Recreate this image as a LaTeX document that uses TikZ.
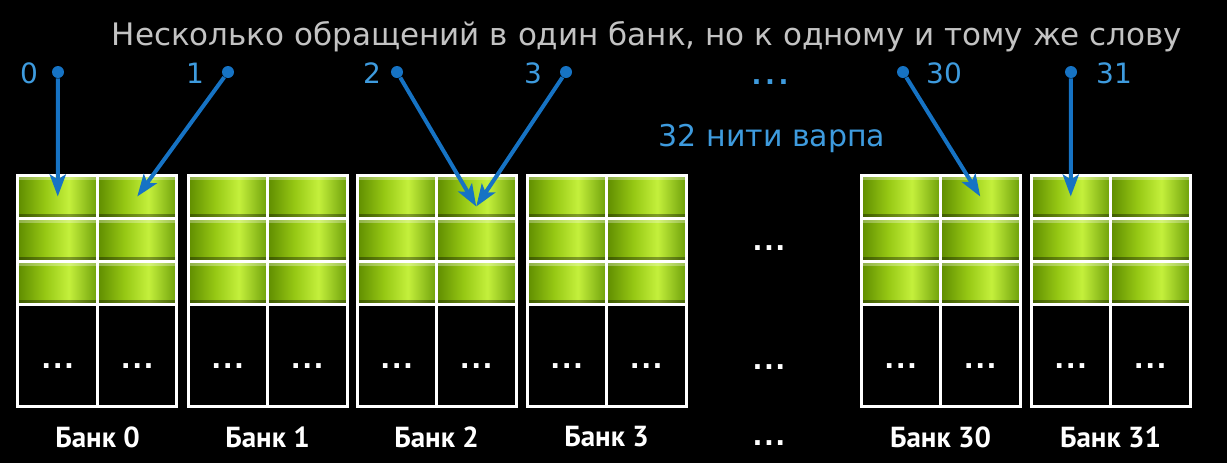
\documentclass[tikz,border=0pt]{standalone}
\usepackage{fontspec}
\setmainfont{DejaVu Sans}
\newfontfamily\bankfont{PT Sans}
\usepackage{tikz}
\usetikzlibrary{matrix,arrows.meta}

\definecolor{gdark}{RGB}{95,140,0}
\definecolor{gmid}{RGB}{150,200,20}
\definecolor{glight}{RGB}{196,240,60}
\definecolor{gedge}{RGB}{110,160,10}
\definecolor{threadblue}{RGB}{62,155,222}
\definecolor{arrowblue}{RGB}{22,115,196}
\definecolor{titlegray}{RGB}{195,195,195}
\pgfdeclarehorizontalshading{cellshade}{100bp}{color(0bp)=(gdark); color(25bp)=(gdark); color(42bp)=(gmid); color(57bp)=(glight); color(75bp)=(gedge); color(100bp)=(gedge)}

\tikzset{
  gcell/.style={draw=white, line width=1.5pt, inner sep=0pt, outer sep=0pt,
    minimum width=39.75pt, minimum height=21.5pt, shading=cellshade,
    path picture={
      \fill[white, opacity=.3] ([yshift=-1pt]path picture bounding box.north west) rectangle ([yshift=-2.5pt]path picture bounding box.north east);
      \fill[black, opacity=.35] ([yshift=2pt]path picture bounding box.south west) rectangle (path picture bounding box.south east);
    }},
  kcell/.style={draw=white, line width=1.5pt, inner sep=0pt, outer sep=0pt,
    minimum width=39.75pt, minimum height=51pt, fill=black},
  bank/.style={matrix of nodes, nodes in empty cells, ampersand replacement=\&,
    column sep=-1.5pt, row sep=-1.5pt, inner sep=0pt, outer sep=0pt, anchor=north,
    row 1/.style={nodes=gcell}, row 2/.style={nodes=gcell},
    row 3/.style={nodes=gcell}, row 4/.style={nodes=kcell}},
  banklabel/.style={text=white, font=\bankfont\bfseries\fontsize{14.5}{16}\selectfont},
  cdots/.style={text=white, inner sep=0pt, font=\bfseries\fontsize{13}{14}\selectfont\addfontfeature{LetterSpace=6}},
  tdot/.style={circle, fill=arrowblue, inner sep=0pt, minimum size=6pt},
  tnum/.style={text=threadblue, inner sep=0pt, font=\fontsize{14}{16}\selectfont},
  warp/.style={draw=arrowblue, line width=2pt, -{Stealth[length=11pt,width=8pt,inset=2.5pt]}}
}

\begin{document}
\begin{tikzpicture}[x=0.5pt, y=-0.5pt]
  \fill[black] (0,0) rectangle (1227,463);
  \useasboundingbox (0,0) rectangle (1227,463);

  \node[anchor=base, text=titlegray, font=\fontsize{15.5}{18}\selectfont] (title) at (647,45)
    {Несколько обращений в один банк, но к одному и тому же слову};

  % memory banks
  \foreach \b/\x in {0/97.5,1/267.5,2/436.5,3/606.5,30/940.5,31/1110.5}{
    \matrix (b\b) [bank] at (\x,173.5) {
      \& \\
      \& \\
      \& \\
      \& \\
    };
    \node[cdots] (d\b-1) at ([yshift=-5.5pt]b\b-4-1.center) {...};
    \node[cdots] (d\b-2) at ([yshift=-5.5pt]b\b-4-2.center) {...};
    \node[banklabel] (l\b) at (\x,437) {Банк \b};
  }
  \node[cdots] (m1) at (769,248) {...};
  \node[cdots] (m2) at (769,367) {...};
  \node[cdots] (m3) at (769,443) {...};

  % warp threads
  \node[tdot] (t0) at (58,72) {};
  \node[tdot] (t1) at (228,72) {};
  \node[tdot] (t2) at (397,72) {};
  \node[tdot] (t3) at (566,72) {};
  \node[tdot] (t30) at (903,72) {};
  \node[tdot] (t31) at (1071,72) {};
  \node[tnum] (n0) at (29,73) {0};
  \node[tnum] (n1) at (195,73) {1};
  \node[tnum] (n2) at (372,73) {2};
  \node[tnum] (n3) at (533,73) {3};
  \node[tnum] (n30) at (944,73) {30};
  \node[tnum] (n31) at (1114,73) {31};
  \node[cdots, text=threadblue, font=\bfseries\fontsize{13}{16}\selectfont\addfontfeature{LetterSpace=14}] (ndots) at (770,82) {...};
  \node[anchor=base, text=threadblue, font=\fontsize{15}{18}\selectfont] (warplabel) at (772,146) {32 нити варпа};

  \path[warp]
  (t0) edge (b0-1-1.center)
  (t1) edge (b0-1-2.center)
  (t2) edge ([yshift=-5pt]b2-1-2.center)
  (t3) edge ([yshift=-5pt]b2-1-2.center)
  (t30) edge (b30-1-2.center)
  (t31) edge (b31-1-1.center)
  ;
\end{tikzpicture}
\end{document}
